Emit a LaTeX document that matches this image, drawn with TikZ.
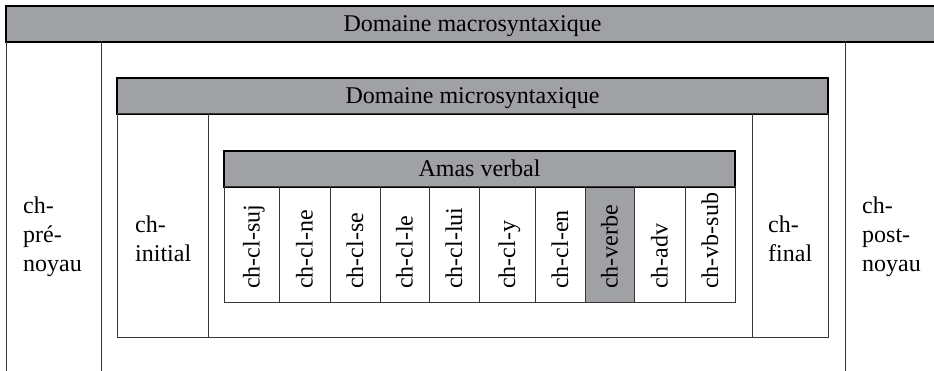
\documentclass[tikz,border=0pt]{standalone}
\usepackage{fontspec}
\setmainfont{Liberation Serif}
\definecolor{barfill}{RGB}{160,161,165}
\definecolor{linegray}{RGB}{55,55,55}
\begin{document}
\begin{tikzpicture}[x=1pt,y=-1pt,
  frame/.style={draw=linegray, line width=1pt},
  bar/.style={draw=black, line width=1.1pt, fill=barfill},
  lab/.style={font=\fontsize{24}{29}\selectfont, inner sep=0pt},
  vlab/.style={lab, rotate=90, anchor=base west}]
\useasboundingbox (0,0) rectangle (934,371);
\clip (0,0) rectangle (934,371);
% macro domain
\draw[bar] (6,6) rectangle (939,42);
\draw[frame] (6,42) -- (6,380) (101,42) -- (101,380) (845,42) -- (845,380);
\node (macro) [lab, anchor=base] at (472.5,32) {Domaine macrosyntaxique};
\node (prenoyau) [lab, anchor=base west] at (23,214) {\vtop{\hbox{ch-}\hbox{pré-}\hbox{noyau}}};
\node (postnoyau) [lab, anchor=base west] at (862,214) {\vtop{\hbox{ch-}\hbox{post-}\hbox{noyau}}};
% micro domain
\draw[bar] (117,78) rectangle (828,114);
\draw[frame] (117,114) rectangle (828,337);
\draw[frame] (208,114) -- (208,337) (752,114) -- (752,337);
\node (micro) [lab, anchor=base] at (472.5,104) {Domaine microsyntaxique};
\node (initial) [lab, anchor=base west] at (135,233) {\vtop{\hbox{ch-}\hbox{initial}}};
\node (final) [lab, anchor=base west] at (768,233) {\vtop{\hbox{ch-}\hbox{final}}};
% amas verbal
\fill[barfill] (585,187) rectangle (634,302);
\draw[bar] (224,151) rectangle (735,187);
\draw[frame] (224,187) rectangle (735,302);
\foreach \xx in {279,330,380,429,479,535,585,634,685}
  \draw[frame] (\xx,187) -- (\xx,302);
\node (amas) [lab, anchor=base] at (479.5,177) {Amas verbal};
\node (suj) [vlab] at (259.5,289) {ch-cl-suj};
\node (ne) [vlab] at (312.5,289) {ch-cl-ne};
\node (se) [vlab] at (363,289) {ch-cl-se};
\node (le) [vlab] at (412.5,289) {ch-cl-le};
\node (lui) [vlab] at (462,289) {ch-cl-lui};
\node (y) [vlab] at (515,289) {ch-cl-y};
\node (en) [vlab] at (568,289) {ch-cl-en};
\node (verbe) [vlab] at (617.5,289) {ch-verbe};
\node (adv) [vlab] at (667.5,289) {ch-adv};
\node (vbsub) [vlab] at (718,289) {ch-vb-sub};
\end{tikzpicture}
\end{document}
